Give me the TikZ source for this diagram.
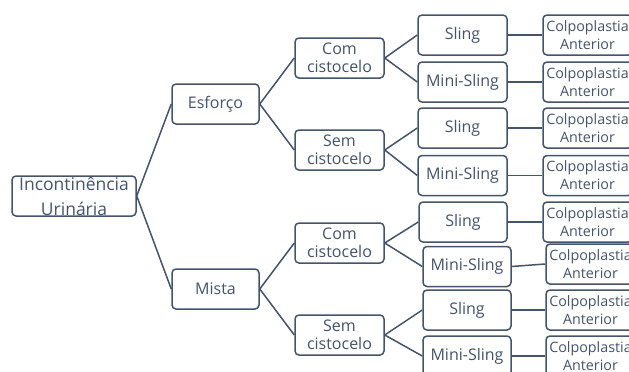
\documentclass[tikz,border=0pt]{standalone}
\usepackage{fontspec}
\setmainfont{Open Sans}
\definecolor{slate}{HTML}{44546A}
\begin{document}
\begin{tikzpicture}[x=1pt,y=-1pt,
  box/.style={draw=slate,line width=1.5pt,rounded corners=4pt,fill=white,
    text=slate,align=center,inner sep=0pt,minimum height=40pt,
    font=\fontsize{16}{18.5}\selectfont},
  wide/.style={box,minimum width=88pt},
  colpo/.style={box,minimum width=89pt,font=\fontsize{14.3}{18}\selectfont},
  rootbox/.style={box,minimum width=124pt,font=\fontsize{17.5}{25}\selectfont},
  link/.style={draw=slate,line width=1.5pt}]
\clip (0,0) rectangle (629,372);
\fill[white] (0,0) rectangle (629,372);

% root and first level
\node[rootbox] (root) at (74,196) {Incontinência\\Urinária};
\node[wide,minimum width=87pt] (esf) at (215.5,104) {Esforço};
\node[wide,minimum width=87pt] (mis) at (215.5,289) {Mista};

% second level
\node[wide,minimum width=89pt] (comA) at (339.5,58) {Com\\cistocelo};
\node[wide,minimum width=89pt] (semA) at (339.5,150) {Sem\\cistocelo};
\node[wide,minimum width=89pt] (comB) at (339.5,243) {Com\\cistocelo};
\node[wide,minimum width=89pt] (semB) at (339.5,335) {Sem\\cistocelo};

% third level
\node[wide,minimum width=89pt] (s1) at (462.5,35) {Sling};
\node[wide,minimum width=89pt] (m1) at (462.5,82) {Mini-Sling};
\node[wide,minimum width=89pt] (s2) at (462.5,128) {Sling};
\node[wide,minimum width=89pt] (m2) at (462.5,175.5) {Mini-Sling};
\node[wide,minimum width=88pt] (s3) at (463,222) {Sling};
\node[wide,minimum width=88pt] (m3) at (467,266.5) {Mini-Sling};
\node[wide,minimum width=88pt] (s4) at (467,310) {Sling};
\node[wide,minimum width=88pt] (m4) at (467,356) {Mini-Sling};

% fourth level
\node[colpo] (c1) at (587.5,35) {Colpoplastia\\Anterior};
\node[colpo] (c2) at (587.5,82) {Colpoplastia\\Anterior};
\node[colpo] (c3) at (587.5,128) {Colpoplastia\\Anterior};
\node[colpo] (c4) at (587.5,175.5) {Colpoplastia\\Anterior};
\node[colpo] (c5) at (587.5,222) {Colpoplastia\\Anterior};
\node[colpo] (c6) at (590.5,264) {Colpoplastia\\Anterior};
\node[colpo] (c7) at (590.5,310) {Colpoplastia\\Anterior};
\node[colpo] (c8) at (590.5,356) {Colpoplastia\\Anterior};

% connectors
\foreach \a/\b in {root/esf,root/mis,esf/comA,esf/semA,mis/comB,mis/semB,
  comA/s1,comA/m1,semA/s2,semA/m2,comB/s3,comB/m3,semB/s4,semB/m4,
  s1/c1,m1/c2,s2/c3,m2/c4,s3/c5,m3/c6,s4/c7,m4/c8}
  \draw[link] (\a.east) -- (\b.west);
\end{tikzpicture}
\end{document}
